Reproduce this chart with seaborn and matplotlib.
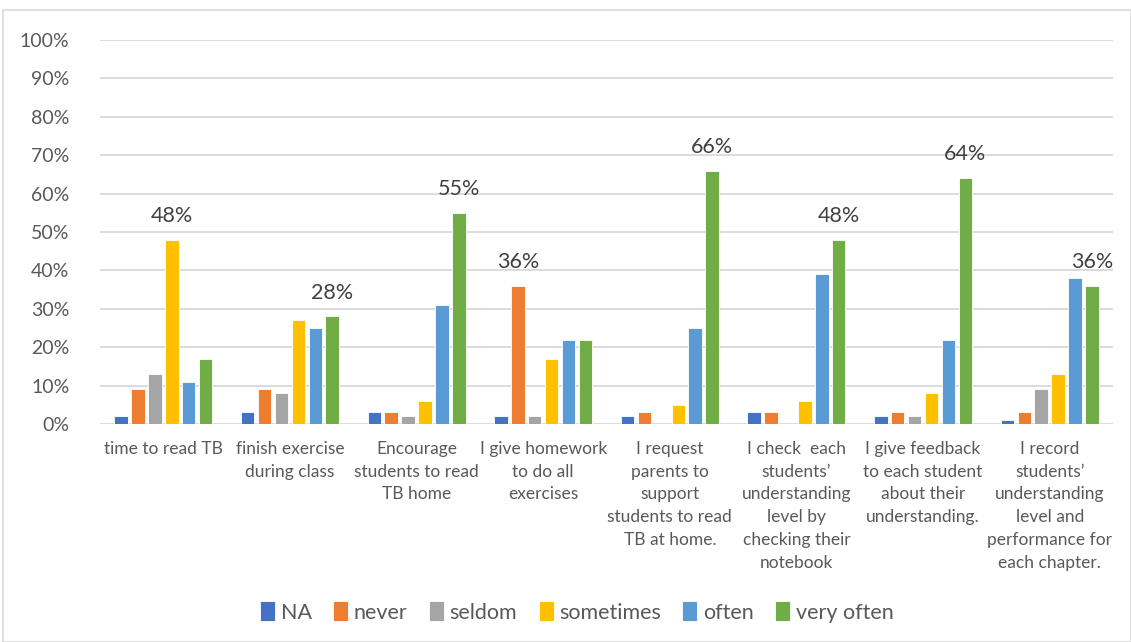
import numpy as np
import pandas as pd
import matplotlib
matplotlib.use("Agg")
import matplotlib.pyplot as plt
import seaborn as sns
from matplotlib.patches import Rectangle

categories = [
    "time to read TB",
    "finish exercise\nduring class",
    "Encourage\nstudents to read\nTB home",
    "I give homework\nto do all\nexercises",
    "I request\nparents to\nsupport\nstudents to read\nTB at home.",
    "I check  each\nstudents’\nunderstanding\nlevel by\nchecking their\nnotebook",
    "I give feedback\nto each student\nabout their\nunderstanding.",
    "I record\nstudents’\nunderstanding\nlevel and\nperformance for\neach chapter.",
]
series_names = ["NA", "never", "seldom", "sometimes", "often", "very often"]
na_vals = [2, 3, 3, 2, 2, 3, 2, 1]
never_vals = [9, 9, 3, 36, 3, 3, 3, 3]
seldom_vals = [13, 8, 2, 2, 0, 0, 2, 9]
sometimes_vals = [48, 27, 6, 17, 5, 6, 8, 13]
often_vals = [11, 25, 31, 22, 25, 39, 22, 38]
very_often_vals = [17, 28, 55, 22, 66, 48, 64, 36]
# which series carries the data label in each group
label_series = ["sometimes", "very often", "very often", "never",
                "very often", "very often", "very often", "very often"]
yticks = [0, 10, 20, 30, 40, 50, 60, 70, 80, 90, 100]

colors = ["#4472C4", "#ED7D31", "#A5A5A5", "#FFC000", "#5B9BD5", "#70AD47"]

all_vals = [na_vals, never_vals, seldom_vals, sometimes_vals, often_vals, very_often_vals]
rows = []
for s, vals in zip(series_names, all_vals):
    for c, v in zip(categories, vals):
        rows.append({"item": c, "freq": s, "value": v})
df = pd.DataFrame(rows)

sns.set_theme(style="white")
font = ["Lato", "DejaVu Sans"]
plt.rcParams["font.family"] = font

fig = plt.figure(figsize=(11.31, 6.42), dpi=100)
ax = fig.add_axes([100 / 1131, 1 - 424 / 642, 1013 / 1131, 384 / 642])

sns.barplot(data=df, x="item", y="value", hue="freq", order=categories,
            hue_order=series_names, palette=colors, width=0.8, gap=0.2,
            saturation=1, ax=ax, legend=True, edgecolor="white", linewidth=0.6)

ax.set_ylim(0, 100)
ax.set_yticks(yticks)
ax.set_yticklabels([f"{t}%" for t in yticks], color="#595959", fontsize=14)
ax.grid(axis="y", color="#D9D9D9", linewidth=1.3)
ax.set_axisbelow(True)
for sp in ax.spines.values():
    sp.set_visible(False)
ax.tick_params(axis="both", length=0)
ax.tick_params(axis="y", pad=22)
ax.tick_params(axis="x", pad=12)
ax.set_xticks(range(len(categories)))
ax.set_xticklabels(categories, color="#595959", fontsize=12.5, va="top",
                   linespacing=1.53)
ax.set_xlabel("")
ax.set_ylabel("")

for gi, sname in enumerate(label_series):
    si = series_names.index(sname)
    patch = ax.containers[si][gi]
    x = patch.get_x() + patch.get_width() / 2
    h = patch.get_height()
    ax.annotate(f"{h:.0f}%", (x, h), xytext=(0, 10), textcoords="offset points",
                ha="center", va="bottom", fontsize=15.5, color="#404040")

handles, labels = ax.get_legend_handles_labels()
ax.get_legend().remove()
leg = fig.legend(handles, labels, loc="center", bbox_to_anchor=(0.51, 1 - 612 / 642),
                 ncol=6, frameon=False, fontsize=15.5, handlelength=0.7,
                 handleheight=1.0, handletextpad=0.25, columnspacing=1.0)
for t in leg.get_texts():
    t.set_color("#595959")

fig.patches.append(Rectangle((3 / 1131, 0), 1 - 3 / 1131, 1 - 10 / 642,
                             transform=fig.transFigure, fill=False,
                             edgecolor="#D9D9D9", linewidth=1.2))

fig.savefig("out.png", dpi=100)
